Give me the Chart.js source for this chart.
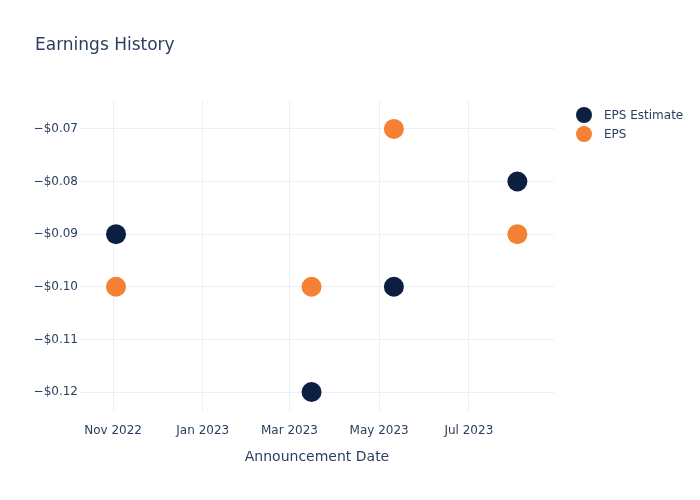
<!DOCTYPE html>
<html>
<head>
<meta charset="utf-8">
<script src="https://cdn.jsdelivr.net/npm/chart.js@4"></script>
<style>
    body { margin: 0; background: #fff; font-family: "DejaVu Sans", sans-serif; }
    #wrap { position: relative; width: 700px; height: 500px; }
    #title { position: absolute; left: 35px; top: 34px; font-size: 17px; color: #2a3f5f; }
    .leg { position: absolute; left: 576px; font-size: 12px; color: #2a3f5f; display: flex; align-items: center; }
    .leg span.dot { width: 16px; height: 16px; border-radius: 50%; display: inline-block; margin-right: 12px; }
</style>
</head>
<body>
<div id="wrap">
    <canvas id="chart" width="700" height="500"></canvas>
    <div id="title">Earnings History</div>
    <div class="leg" style="top:107px"><span class="dot" style="background:#0c1f40"></span>EPS Estimate</div>
    <div class="leg" style="top:126px"><span class="dot" style="background:#f58134"></span>EPS</div>
</div>
<script>
// announcement dates and values
const dates = ['2022-11-03', '2023-03-16', '2023-05-11', '2023-08-03'];
const epsEstimate = [-0.09, -0.12, -0.10, -0.08];
const eps = [-0.10, -0.10, -0.07, -0.09];
const xTickDates = ['2022-11-01', '2023-01-01', '2023-03-01', '2023-05-01', '2023-07-01'];
const yTickValues = [-0.07, -0.08, -0.09, -0.10, -0.11, -0.12];

const monthNames = ['Jan', 'Feb', 'Mar', 'Apr', 'May', 'Jun', 'Jul', 'Aug', 'Sep', 'Oct', 'Nov', 'Dec'];
const textColor = '#2a3f5f';
const gridColor = '#ebf0f8';

function toPoints(values) {
    return values.map((v, i) => ({ x: Date.parse(dates[i]), y: v }));
}

function formatMonth(ms) {
    const d = new Date(ms);
    return monthNames[d.getUTCMonth()] + ' ' + d.getUTCFullYear();
}

Chart.defaults.font.family = '"DejaVu Sans", sans-serif';

new Chart(document.getElementById('chart'), {
    type: 'scatter',
    data: {
        datasets: [
            {
                label: 'EPS Estimate',
                data: toPoints(epsEstimate),
                backgroundColor: '#0c1f40',
                borderWidth: 0,
                pointRadius: 10,
                pointHoverRadius: 10
            },
            {
                label: 'EPS',
                data: toPoints(eps),
                backgroundColor: '#f58134',
                borderWidth: 0,
                pointRadius: 10,
                pointHoverRadius: 10
            }
        ]
    },
    options: {
        responsive: false,
        animation: false,
        layout: { padding: { left: 0, right: 146, top: 101, bottom: 0 } },
        plugins: {
            legend: { display: false },
            tooltip: { enabled: false }
        },
        scales: {
            x: {
                type: 'linear',
                min: Date.UTC(2022, 9, 9, 12),
                max: Date.UTC(2023, 7, 27, 22),
                afterBuildTicks: s => { s.ticks = xTickDates.map(d => ({ value: Date.parse(d) })); },
                afterFit: s => { s.height = 89; },
                border: { display: false },
                grid: { color: gridColor, drawTicks: false },
                ticks: {
                    color: textColor,
                    font: { size: 12 },
                    padding: 13,
                    maxRotation: 0,
                    autoSkip: false,
                    callback: v => formatMonth(v)
                },
                title: {
                    display: true,
                    text: 'Announcement Date',
                    color: textColor,
                    font: { size: 14 },
                    padding: { top: 0, bottom: 34 }
                }
            },
            y: {
                min: -0.1236,
                max: -0.0647,
                afterBuildTicks: s => { s.ticks = yTickValues.map(v => ({ value: v })); },
                afterFit: s => { s.width = 80; },
                border: { display: false },
                grid: { color: gridColor, drawTicks: false },
                ticks: {
                    color: textColor,
                    font: { size: 12 },
                    padding: 2,
                    callback: v => '\u2212$' + Math.abs(v).toFixed(2)
                }
            }
        }
    }
});
</script>
</body>
</html>
